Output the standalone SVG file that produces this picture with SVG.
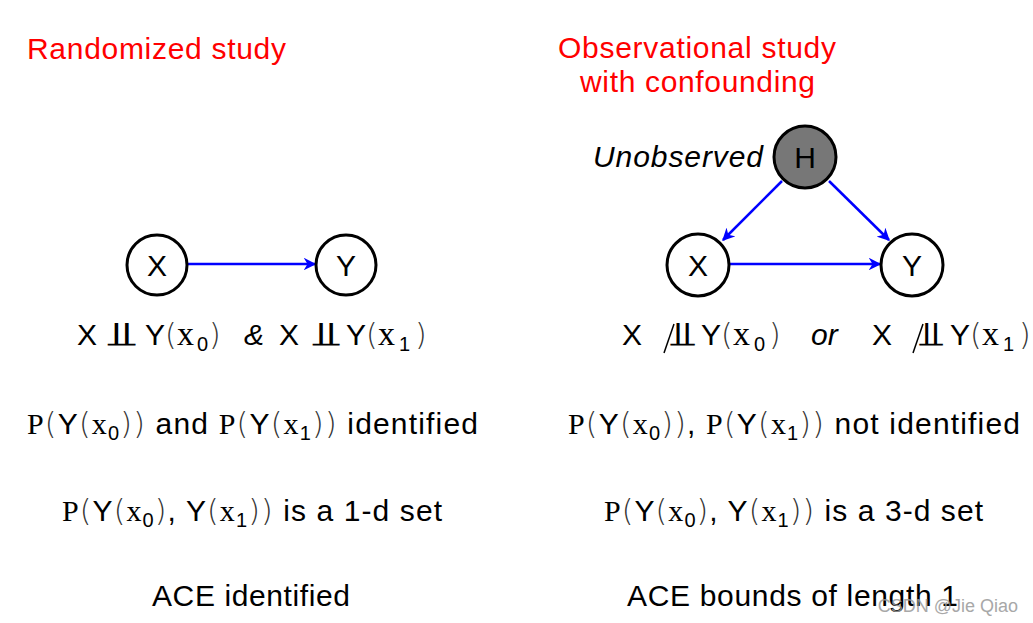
<svg xmlns="http://www.w3.org/2000/svg" width="1033" height="623" viewBox="0 0 1033 623">
<style>
.title{font-family:"Liberation Sans",Arial,sans-serif;font-size:30px;fill:#ff0000}
.t{font-family:"Liberation Sans",Arial,sans-serif;font-size:30px;fill:#000}
.m{font-family:"Liberation Serif","DejaVu Serif",serif}
.mx{font-family:"Liberation Serif","DejaVu Serif",serif;font-size:34px}
.p{font-family:"DejaVu Sans","Liberation Serif",serif;font-weight:200;fill:#333}
.s{font-size:20px}
.ind{font-family:"DejaVu Sans",sans-serif;font-size:34px;fill:#000}
.node circle{stroke:#000;stroke-width:3;fill:#fff}
.node text{font-family:"Liberation Sans",Arial,sans-serif;font-size:30px;text-anchor:middle;fill:#000}
.edge{stroke:#0000ff;stroke-width:2.5;fill:none;marker-end:url(#ah)}
.wm{font-family:"Liberation Sans",Arial,sans-serif;font-size:18px;fill:#999;opacity:0.85}
</style>
<defs>
<marker id="ah" viewBox="0 0 10 10" refX="9" refY="5" markerWidth="5" markerHeight="5" orient="auto" markerUnits="strokeWidth">
<path d="M0,0 L10,5 L0,10 L3,5 z" fill="#0000ff"/>
</marker>
</defs>

<text class="title" x="27" y="59" textLength="259">Randomized study</text>
<text class="title" x="558" y="58" textLength="278">Observational study</text>
<text class="title" x="580" y="92" textLength="235">with confounding</text>
<text class="t" x="593" y="167" textLength="170" font-style="italic">Unobserved</text>

<g id="connectors">
<line class="edge" x1="188" y1="264" x2="315" y2="264"/>
<line class="edge" x1="730" y1="264" x2="880" y2="264"/>
<line class="edge" x1="782" y1="181" x2="723" y2="240"/>
<line class="edge" x1="829" y1="181" x2="889" y2="240"/>
</g>

<g id="node-X1" class="node"><circle cx="157" cy="265" r="30"/><text x="157" y="276">X</text></g>
<g id="node-Y1" class="node"><circle cx="346" cy="265" r="30"/><text x="346" y="276">Y</text></g>
<g id="node-H" class="node"><circle cx="805" cy="157" r="31" style="fill:#777"/><text x="805" y="168" class="m">H</text></g>
<g id="node-X2" class="node"><circle cx="698" cy="265" r="31"/><text x="698" y="276">X</text></g>
<g id="node-Y2" class="node"><circle cx="912" cy="265" r="31"/><text x="912" y="276">Y</text></g>

<!-- line 1 left -->
<text class="t" y="345"><tspan x="77">X</tspan><tspan x="145">Y</tspan><tspan class="p" x="165">(</tspan><tspan class="mx" x="177">x</tspan><tspan class="s" x="197" dy="6">0</tspan><tspan class="p" x="209" dy="-6">)</tspan><tspan x="244" font-style="italic">&amp;</tspan><tspan x="279">X</tspan><tspan x="346">Y</tspan><tspan class="p" x="366">(</tspan><tspan class="mx" x="378">x</tspan><tspan class="s" x="399" dy="6">1</tspan><tspan class="p" x="415" dy="-6">)</tspan></text>
<text class="ind" x="105" y="346" textLength="33" lengthAdjust="spacingAndGlyphs">⫫</text>
<text class="ind" x="310" y="346" textLength="32" lengthAdjust="spacingAndGlyphs">⫫</text>

<!-- line 1 right -->
<text class="t" y="345"><tspan x="622">X</tspan><tspan x="701">Y</tspan><tspan class="p" x="721">(</tspan><tspan class="mx" x="733">x</tspan><tspan class="s" x="754" dy="6">0</tspan><tspan class="p" x="769" dy="-6">)</tspan><tspan x="811" font-style="italic">or</tspan><tspan x="872">X</tspan><tspan x="950">Y</tspan><tspan class="p" x="970">(</tspan><tspan class="mx" x="982">x</tspan><tspan class="s" x="1003" dy="6">1</tspan><tspan class="p" x="1019" dy="-6">)</tspan></text>
<text class="ind" x="668" y="346" textLength="29" lengthAdjust="spacingAndGlyphs">⫫</text>
<text class="ind" x="917" y="346" textLength="28" lengthAdjust="spacingAndGlyphs">⫫</text>
<line x1="664" y1="353" x2="674" y2="324" stroke="#000" stroke-width="1.5"/>
<line x1="913" y1="353" x2="923" y2="324" stroke="#000" stroke-width="1.5"/>

<!-- line 2 -->
<text class="t" x="27" y="434" textLength="451"><tspan class="m">P</tspan><tspan class="p">(</tspan>Y<tspan class="p">(</tspan><tspan class="m">x</tspan><tspan class="s" dy="6">0</tspan><tspan class="p" dy="-6">))</tspan> and <tspan class="m">P</tspan><tspan class="p">(</tspan>Y<tspan class="p">(</tspan><tspan class="m">x</tspan><tspan class="s" dy="6">1</tspan><tspan class="p" dy="-6">))</tspan> identified</text>
<text class="t" x="568" y="434" textLength="452"><tspan class="m">P</tspan><tspan class="p">(</tspan>Y<tspan class="p">(</tspan><tspan class="m">x</tspan><tspan class="s" dy="6">0</tspan><tspan class="p" dy="-6">))</tspan>, <tspan class="m">P</tspan><tspan class="p">(</tspan>Y<tspan class="p">(</tspan><tspan class="m">x</tspan><tspan class="s" dy="6">1</tspan><tspan class="p" dy="-6">))</tspan> not identified</text>

<!-- line 3 -->
<text class="t" x="62" y="521" textLength="380"><tspan class="m">P</tspan><tspan class="p">(</tspan>Y<tspan class="p">(</tspan><tspan class="m">x</tspan><tspan class="s" dy="6">0</tspan><tspan class="p" dy="-6">)</tspan>, Y<tspan class="p">(</tspan><tspan class="m">x</tspan><tspan class="s" dy="6">1</tspan><tspan class="p" dy="-6">))</tspan> is a 1-d set</text>
<text class="t" x="604" y="521" textLength="379"><tspan class="m">P</tspan><tspan class="p">(</tspan>Y<tspan class="p">(</tspan><tspan class="m">x</tspan><tspan class="s" dy="6">0</tspan><tspan class="p" dy="-6">)</tspan>, Y<tspan class="p">(</tspan><tspan class="m">x</tspan><tspan class="s" dy="6">1</tspan><tspan class="p" dy="-6">))</tspan> is a 3-d set</text>

<!-- line 4 -->
<text class="t" x="152" y="606" textLength="198">ACE identified</text>
<text class="t" x="627" y="606" textLength="331">ACE bounds of length 1</text>

<text class="wm" x="1018" y="612" text-anchor="end">CSDN @Jie Qiao</text>
</svg>
